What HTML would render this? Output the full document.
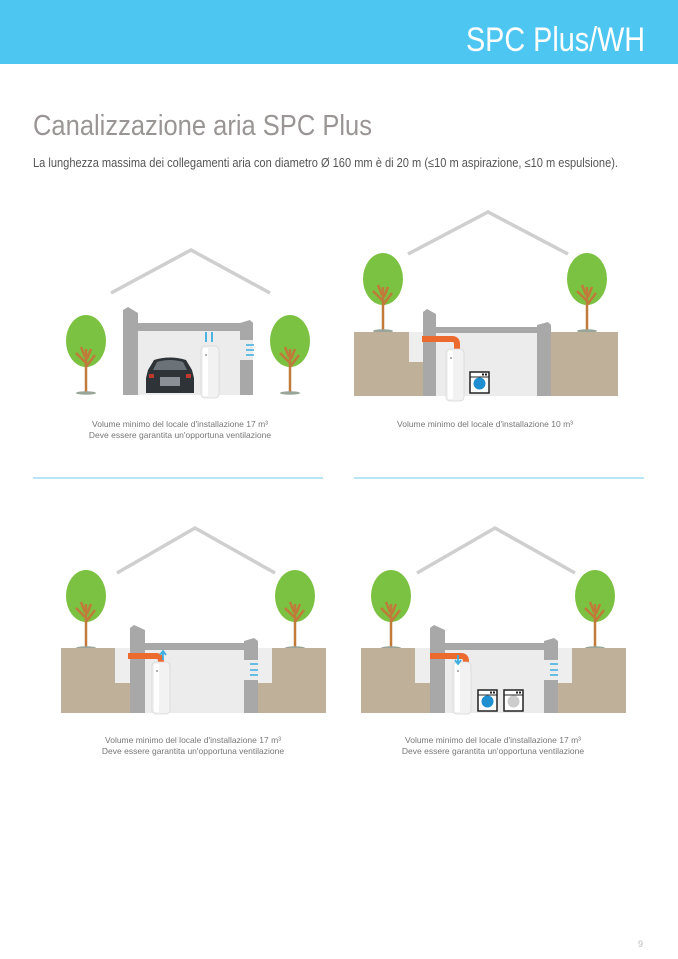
<!DOCTYPE html>
<html><head><meta charset="utf-8"><style>
html,body{margin:0;padding:0;background:#fff;}
svg{display:block;}
text{font-family:"Liberation Sans Narrow","Liberation Sans",sans-serif;}
</style></head><body>
<svg width="678" height="959" viewBox="0 0 678 959" xmlns="http://www.w3.org/2000/svg">
<defs>
<g id="tree">
<ellipse cx="0" cy="0" rx="20" ry="26" fill="#7cc242"/>
<path d="M0,8 L0,52 M0,22 L-10,12 M0,26 L9,14 M-1,16 L-5,6 M1,18 L5,8" stroke="#c07a3a" stroke-width="2.5" fill="none"/>
<ellipse cx="0" cy="52" rx="10" ry="1.8" fill="#9aa59a"/>
</g>
<g id="tank">
<rect x="0" y="0" width="18" height="52" rx="4" fill="#f2f2f2" stroke="#d8d8d8" stroke-width="0.8"/>
<rect x="2" y="2" width="5" height="48" fill="#fff"/>
<circle cx="5" cy="9" r="1" fill="#999"/>
</g>
<g id="wash">
<rect x="0" y="0" width="19" height="21" fill="#fff" stroke="#222" stroke-width="1.5"/>
<line x1="0" y1="5" x2="19" y2="5" stroke="#222" stroke-width="1"/>
<rect x="12" y="1.5" width="2" height="2" fill="#222"/><rect x="15" y="1.5" width="2" height="2" fill="#222"/>
</g>
</defs>

<rect x="0" y="0" width="678" height="64" fill="#4ec6f2"/>
<text x="466" y="51" font-size="34" fill="#fff" textLength="179" lengthAdjust="spacingAndGlyphs">SPC Plus/WH</text>
<text x="33" y="135" font-size="29" fill="#9a9595" textLength="339" lengthAdjust="spacingAndGlyphs">Canalizzazione aria SPC Plus</text>
<text x="33" y="167" font-size="12.5" fill="#555" textLength="585" lengthAdjust="spacingAndGlyphs">La lunghezza massima dei collegamenti aria con diametro Ø 160 mm è di 20 m (≤10 m aspirazione, ≤10 m espulsione).</text>

<!-- Scene 1 -->
<polyline points="111,293 191,250 270,293" fill="none" stroke="#cfcfcf" stroke-width="3.5"/>
<use href="#tree" x="86" y="341"/>
<use href="#tree" x="290" y="341"/>
<rect x="138" y="331" width="102" height="64" fill="#ececec"/>
<path d="M123,310 L128,307 L138,313 L138,395 L123,395 Z" fill="#a8a8a8"/>
<rect x="138" y="323" width="110" height="8" fill="#a8a8a8"/>
<path d="M240,323 L250,320 L253,323 L253,340 L240,340 Z" fill="#a8a8a8"/>
<rect x="240" y="360" width="13" height="35" fill="#a8a8a8"/>
<rect x="240" y="340" width="13" height="20" fill="#ececec"/>
<g stroke="#3aaee0" stroke-width="1.5"><line x1="246" y1="345" x2="254" y2="345"/><line x1="246" y1="350" x2="254" y2="350"/><line x1="246" y1="355" x2="254" y2="355"/></g>
<path d="M146,378 L148,370 L154,360 Q170,355 186,360 L192,370 L194,378 L194,393 L146,393 Z" fill="#2e3338"/>
<path d="M153,370 L157,362 Q170,358 183,362 L187,370 Z" fill="#6b7278"/>
<rect x="160" y="377" width="20" height="9" fill="#8a9096"/>
<rect x="149" y="374" width="5" height="4" fill="#c0392b"/><rect x="186" y="374" width="5" height="4" fill="#c0392b"/>
<use href="#tank" x="201" y="346"/>
<g stroke="#3aaee0" stroke-width="1.8"><line x1="206" y1="332" x2="206" y2="342"/><line x1="212" y1="332" x2="212" y2="342"/></g>
<text x="180" y="427" text-anchor="middle" font-size="8.5" fill="#777">Volume minimo del locale d'installazione 17 m³</text>
<text x="180" y="438" text-anchor="middle" font-size="8.5" fill="#777">Deve essere garantita un'opportuna ventilazione</text>

<!-- Scene 2 -->
<polyline points="408,254 488,212 568,254" fill="none" stroke="#cfcfcf" stroke-width="3.5"/>
<use href="#tree" x="383" y="279"/>
<use href="#tree" x="587" y="279"/>
<rect x="354" y="332" width="264" height="64" fill="#bfb199"/>
<rect x="409" y="332" width="14" height="30" fill="#eeeeee"/>
<rect x="436" y="333" width="101" height="63" fill="#ececec"/>
<path d="M423,312 L427,309 L436,314 L436,396 L423,396 Z" fill="#a8a8a8"/>
<rect x="436" y="327" width="110" height="6" fill="#a8a8a8"/>
<path d="M537,325 L548,322 L551,325 L551,396 L537,396 Z" fill="#a8a8a8"/>
<path d="M422,339 L452,339 Q457,339 457,344 L457,352" fill="none" stroke="#ec6a2e" stroke-width="6"/>
<use href="#tank" x="446" y="349"/>
<use href="#wash" x="470" y="372"/>
<circle cx="479.5" cy="383.5" r="6" fill="#1e8fd0"/>
<text x="485" y="427" text-anchor="middle" font-size="8.5" fill="#777">Volume minimo del locale d'installazione 10 m³</text>

<line x1="33" y1="478" x2="323" y2="478" stroke="#8fd3ef" stroke-width="1.2"/>
<line x1="354" y1="478" x2="644" y2="478" stroke="#8fd3ef" stroke-width="1.2"/>

<!-- Scene 3 -->
<polyline points="117,573 195,528 275,573" fill="none" stroke="#cfcfcf" stroke-width="3.5"/>
<use href="#tree" x="86" y="596"/>
<use href="#tree" x="295" y="596"/>
<rect x="61" y="648" width="265" height="65" fill="#bfb199"/>
<rect x="115" y="648" width="15" height="35" fill="#eeeeee"/>
<rect x="258" y="648" width="14" height="35" fill="#eeeeee"/>
<rect x="145" y="650" width="100" height="63" fill="#ececec"/>
<path d="M130,628 L134,625 L145,630 L145,713 L130,713 Z" fill="#a8a8a8"/>
<rect x="145" y="643" width="109" height="7" fill="#a8a8a8"/>
<path d="M244,641 L254,638 L258,641 L258,660 L244,660 Z" fill="#a8a8a8"/>
<rect x="244" y="680" width="14" height="33" fill="#a8a8a8"/>
<rect x="244" y="660" width="14" height="20" fill="#ececec"/>
<g stroke="#3aaee0" stroke-width="1.5"><line x1="250" y1="664" x2="258" y2="664"/><line x1="250" y1="670" x2="258" y2="670"/><line x1="250" y1="675" x2="258" y2="675"/></g>
<path d="M128,656 L156,656 Q161,656 161,661 L161,665" fill="none" stroke="#ec6a2e" stroke-width="6"/>
<use href="#tank" x="152" y="662"/>
<path d="M163,660 L163,652 M160,655 L163,651 L166,655" stroke="#3aaee0" stroke-width="1.8" fill="none"/>
<text x="193" y="743" text-anchor="middle" font-size="8.5" fill="#777">Volume minimo del locale d'installazione 17 m³</text>
<text x="193" y="754" text-anchor="middle" font-size="8.5" fill="#777">Deve essere garantita un'opportuna ventilazione</text>

<!-- Scene 4 -->
<polyline points="417,573 495,528 575,573" fill="none" stroke="#cfcfcf" stroke-width="3.5"/>
<use href="#tree" x="391" y="596"/>
<use href="#tree" x="595" y="596"/>
<rect x="361" y="648" width="265" height="65" fill="#bfb199"/>
<rect x="415" y="648" width="15" height="35" fill="#eeeeee"/>
<rect x="558" y="648" width="14" height="35" fill="#eeeeee"/>
<rect x="445" y="650" width="100" height="63" fill="#ececec"/>
<path d="M430,628 L434,625 L445,630 L445,713 L430,713 Z" fill="#a8a8a8"/>
<rect x="445" y="643" width="109" height="7" fill="#a8a8a8"/>
<path d="M544,641 L554,638 L558,641 L558,660 L544,660 Z" fill="#a8a8a8"/>
<rect x="544" y="680" width="14" height="33" fill="#a8a8a8"/>
<rect x="544" y="660" width="14" height="20" fill="#ececec"/>
<g stroke="#3aaee0" stroke-width="1.5"><line x1="550" y1="664" x2="558" y2="664"/><line x1="550" y1="670" x2="558" y2="670"/><line x1="550" y1="675" x2="558" y2="675"/></g>
<path d="M430,656 L461,656 Q466,656 466,661 L466,665" fill="none" stroke="#ec6a2e" stroke-width="6"/>
<use href="#tank" x="453" y="662"/>
<path d="M458,655 L458,663 M455,660 L458,664 L461,660" stroke="#3aaee0" stroke-width="1.8" fill="none"/>
<use href="#wash" x="478" y="690"/>
<circle cx="487.5" cy="701.5" r="6" fill="#1e8fd0"/>
<use href="#wash" x="504" y="690"/>
<circle cx="513.5" cy="701.5" r="6" fill="#cccccc"/>
<text x="493" y="743" text-anchor="middle" font-size="8.5" fill="#777">Volume minimo del locale d'installazione 17 m³</text>
<text x="493" y="754" text-anchor="middle" font-size="8.5" fill="#777">Deve essere garantita un'opportuna ventilazione</text>

<text x="643" y="947" text-anchor="end" font-size="9" fill="#bbb">9</text>
</svg>
</body></html>
